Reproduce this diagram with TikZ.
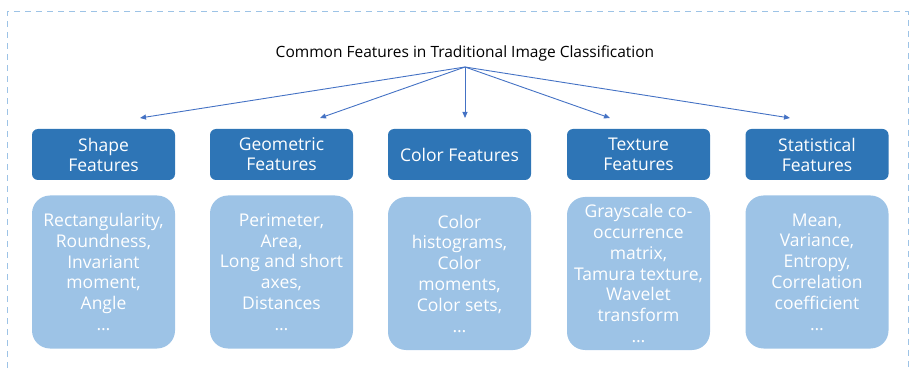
\documentclass[tikz,border=0pt]{standalone}
\usepackage{fontspec}
\setmainfont{Open Sans}
\usetikzlibrary{arrows.meta}
\definecolor{headblue}{HTML}{2E75B6}
\definecolor{bodyblue}{HTML}{9DC3E6}
\definecolor{arrowblue}{HTML}{4472C4}
\definecolor{frameblue}{HTML}{9DC3E6}
\tikzset{
  headbox/.style={draw=none, fill=headblue, rounded corners=6pt, minimum width=143pt,
    minimum height=51pt, text=white, align=center, inner sep=0pt,
    font=\fontsize{17.5}{20}\selectfont},
  bodybox/.style={draw=none, fill=bodyblue, rounded corners=18pt, minimum width=143pt,
    minimum height=153pt, text=white, align=center, inner sep=0pt,
    font=\fontsize{17.5}{20.8}\selectfont},
  branch/.style={draw=arrowblue, line width=0.9pt, -{Triangle[length=6pt,width=5pt]}},
}
\begin{document}
\begin{tikzpicture}[x=1pt,y=-1pt]
\useasboundingbox (0,0) rectangle (910,371);
% dashed outer frame
\draw[frameblue, line width=1pt, dash pattern=on 6pt off 5pt] (7,390) -- (7,12) -- (908,12) -- (908,390);
% title
\node[font=\fontsize{15.5}{18}\selectfont] (title) at (465,53) {Common Features in Traditional Image Classification};
\coordinate (root) at (465,67);
% feature headers
\node[headbox] (h1) at (103.5,154.5) {Shape\\Features};
\node[headbox] (h2) at (281.5,154.5) {Geometric\\Features};
\node[headbox] (h3) at (459.5,154.5) {Color Features};
\node[headbox] (h4) at (638.5,154.5) {Texture\\Features};
\node[headbox] (h5) at (817,154.5) {Statistical\\Features};
% arrow targets
\coordinate (t1) at (140,118);
\coordinate (t2) at (320,118);
\coordinate (t3) at (465,118);
\coordinate (t4) at (610,118);
\coordinate (t5) at (790,118);
\foreach \i in {1,...,5} \draw[branch] (root) -- (t\i);
% feature contents
\node[bodybox] (b1) at (103.5,272) {Rectangularity,\\Roundness,\\Invariant\\moment,\\Angle\\\ldots};
\node[bodybox] (b2) at (281.5,272) {Perimeter,\\Area,\\Long and short\\axes,\\Distances\\\ldots};
\node[bodybox] (b3) at (459.5,273.5) {Color\\histograms,\\Color\\moments,\\Color sets,\\\ldots};
\node[bodybox] (b4) at (638.5,273.5) {Grayscale co-\\occurrence\\matrix,\\Tamura texture,\\Wavelet\\transform\\\ldots};
\node[bodybox] (b5) at (817,272) {Mean,\\Variance,\\Entropy,\\Correlation\\coefficient\\\ldots};
\end{tikzpicture}
\end{document}
